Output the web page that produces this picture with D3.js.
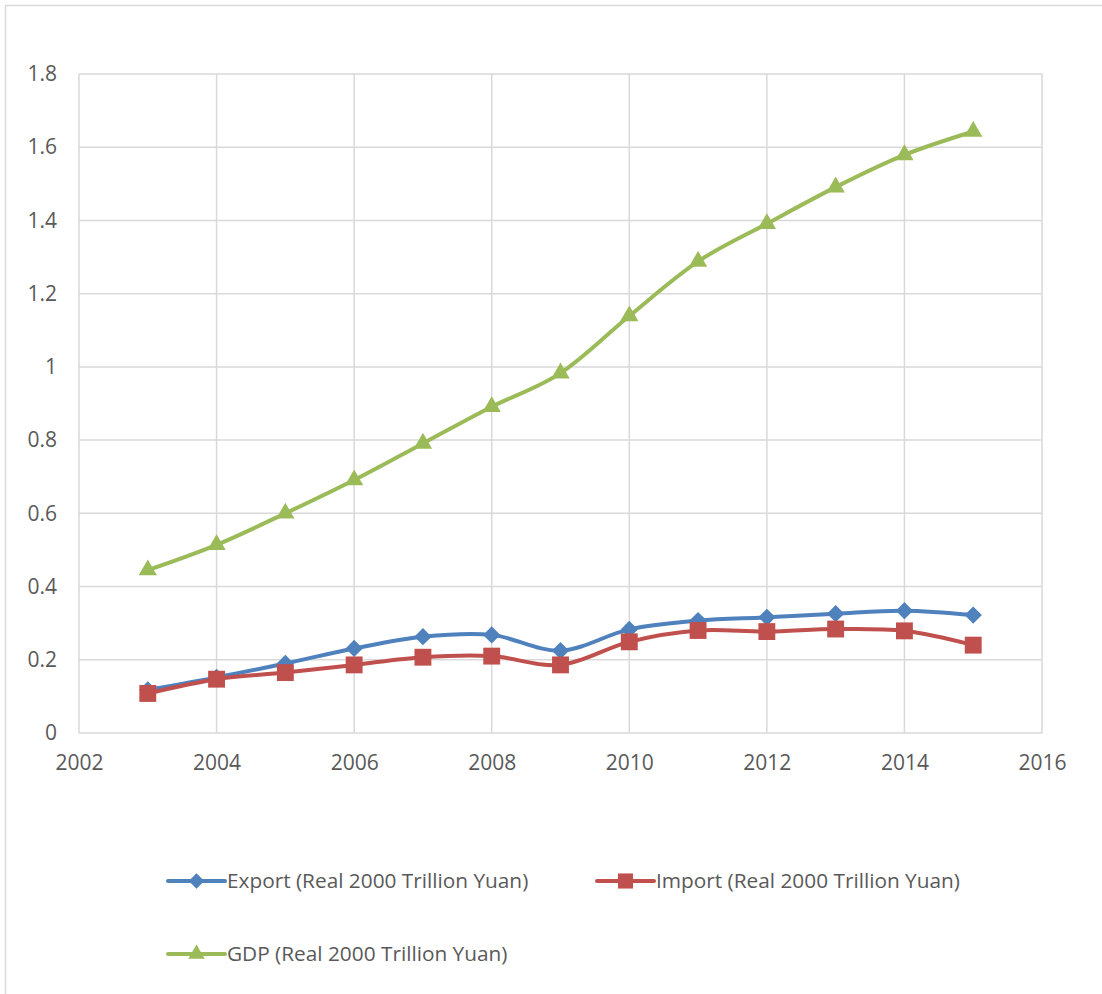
<!DOCTYPE html>
<html><head><meta charset="utf-8">
<script src="https://cdn.jsdelivr.net/npm/d3@7"></script>
<style>body{margin:0;background:#fff;} svg{display:block;} text{font-family:"Open Sans",sans-serif;fill:#595959;}</style>
</head><body>
<svg id="c" width="1102" height="994"></svg>
<script>
const years = [2003,2004,2005,2006,2007,2008,2009,2010,2011,2012,2013,2014,2015];
const exportVals = [0.118,0.152,0.190,0.231,0.263,0.268,0.225,0.283,0.307,0.316,0.326,0.334,0.322];
const importVals = [0.108,0.147,0.165,0.186,0.207,0.210,0.186,0.249,0.280,0.277,0.284,0.279,0.240];
const gdpVals = [0.445,0.514,0.600,0.691,0.791,0.891,0.983,1.139,1.288,1.391,1.491,1.579,1.643];
const xTicks = [2002,2004,2006,2008,2010,2012,2014,2016];
const yTicks = [0,0.2,0.4,0.6,0.8,1,1.2,1.4,1.6,1.8];
const seriesNames = ["Export (Real 2000 Trillion Yuan)","Import (Real 2000 Trillion Yuan)","GDP (Real 2000 Trillion Yuan)"];

const series = [
  {name: seriesNames[0], values: exportVals, color: "#4F81BD", marker: d3.symbolDiamond2, msize: 190},
  {name: seriesNames[1], values: importVals, color: "#C0504D", marker: d3.symbolSquare, msize: 285},
  {name: seriesNames[2], values: gdpVals, color: "#9BBB59", marker: d3.symbolTriangle, msize: 145}
];

const svg = d3.select("#c");
svg.append("rect").attr("x",5.5).attr("y",5.5).attr("width",1110).attr("height",1000)
  .attr("fill","none").attr("stroke","#d9d9d9").attr("stroke-width",1.5);

const L=79, R=1042, T=74, B=733;
const x = d3.scaleLinear().domain([2002,2016]).range([L,R]);
const y = d3.scaleLinear().domain([0,1.8]).range([B,T]);

const g = svg.append("g");
g.selectAll(".hg").data(yTicks).join("line")
  .attr("x1",L).attr("x2",R).attr("y1",d=>y(d)).attr("y2",d=>y(d))
  .attr("stroke","#d9d9d9").attr("stroke-width",1.5);
g.selectAll(".vg").data(xTicks).join("line")
  .attr("y1",T).attr("y2",B).attr("x1",d=>x(d)).attr("x2",d=>x(d))
  .attr("stroke","#d9d9d9").attr("stroke-width",1.5);

const yAxis = d3.axisLeft(y).tickValues(yTicks).tickSize(0).tickPadding(22).tickFormat(d=>String(d));
const ya = svg.append("g").attr("transform",`translate(${L},0)`).call(yAxis);
const xAxis = d3.axisBottom(x).tickValues(xTicks).tickSize(0).tickPadding(22).tickFormat(d=>String(d));
const xa = svg.append("g").attr("transform",`translate(0,${B})`).call(xAxis);
[ya,xa].forEach(a=>{a.select(".domain").remove(); a.selectAll("text").attr("font-size",21).attr("font-family","Open Sans").attr("fill","#595959");});

const line = d3.line().x((d,i)=>x(years[i])).y(d=>y(d)).curve(d3.curveCatmullRom.alpha(0));

series.forEach(s=>{
  svg.append("path").datum(s.values).attr("d",line).attr("fill","none")
    .attr("stroke",s.color).attr("stroke-width",4).attr("stroke-linejoin","round").attr("stroke-linecap","round");
});
series.forEach(s=>{
  const sym = d3.symbol().type(s.marker).size(s.msize);
  svg.append("g").selectAll("path").data(s.values).join("path")
    .attr("d",sym).attr("fill",s.color)
    .attr("transform",(d,i)=>`translate(${x(years[i])},${y(d)})`);
});

const legendPos = [[168,881],[597,881],[168,954]];
series.forEach((s,i)=>{
  const [lx,ly] = legendPos[i];
  const lg = svg.append("g").attr("transform",`translate(${lx},${ly})`);
  lg.append("line").attr("x1",0).attr("x2",57).attr("y1",0).attr("y2",0)
    .attr("stroke",s.color).attr("stroke-width",4).attr("stroke-linecap","round");
  lg.append("path").attr("d",d3.symbol().type(s.marker).size(s.msize*0.8)()).attr("fill",s.color)
    .attr("transform","translate(28.5,0)");
  lg.append("text").attr("x",59).attr("y",0).attr("dy","0.35em").attr("font-size",20.8).text(s.name);
});
</script>
</body></html>
